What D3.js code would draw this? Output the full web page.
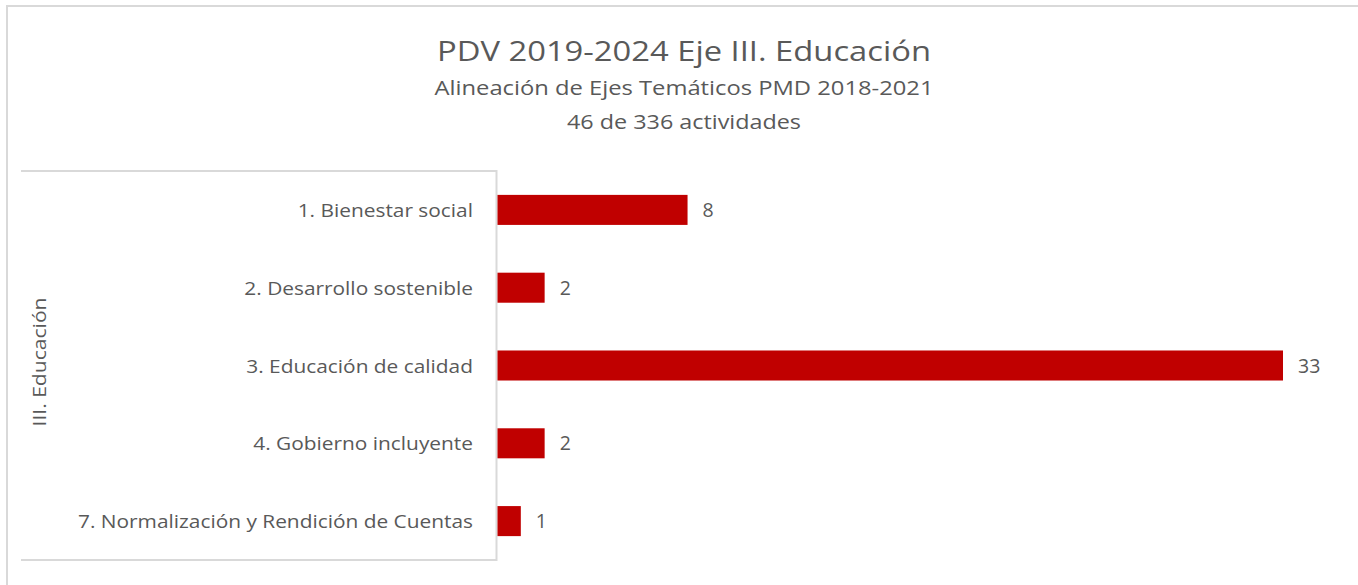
<!DOCTYPE html>
<html><head><meta charset="utf-8">
<script src="https://cdn.jsdelivr.net/npm/d3@7"></script>
<style>body{margin:0;background:#fff;} svg{display:block;font-family:"Open Sans","Noto Sans",sans-serif;}</style>
</head><body>
<svg id="c" width="1358" height="585"></svg>
<script>
const categories = ["1. Bienestar social","2. Desarrollo sostenible","3. Educación de calidad","4. Gobierno incluyente","7. Normalización y Rendición de Cuentas"];
const values = [8, 2, 33, 2, 1];
const groupLabel = "III. Educación";
const titleLines = ["PDV 2019-2024 Eje III. Educación","Alineación de Ejes Temáticos PMD 2018-2021","46 de 336 actividades"];

const svg = d3.select("#c");
const grey = "#d9d9d9", txt = "#595959";

// outer chart border (cropped)
svg.append("rect").attr("x",7).attr("y",6).attr("width",1400).attr("height",700)
  .attr("fill","none").attr("stroke",grey).attr("stroke-width",2);

// titles
const tSpecs = [{y:61,size:27.5,w:494,cx:684},{y:95,size:20,w:499,cx:684},{y:129,size:20,w:234,cx:684}];
titleLines.forEach((t,i)=>{
  const s = tSpecs[i];
  svg.append("text").attr("x",s.cx).attr("y",s.y).attr("text-anchor","middle")
    .attr("font-size",s.size).attr("fill",txt).attr("textLength",s.w)
    .attr("lengthAdjust","spacingAndGlyphs").text(t);
});

const x = d3.scaleLinear().domain([0,33]).range([497,1283]);
const y = d3.scaleBand().domain(categories).range([171,560]).paddingInner(0.614).paddingOuter(0.307);

// inner category box lines
svg.append("line").attr("x1",21).attr("x2",497).attr("y1",171).attr("y2",171).attr("stroke",grey).attr("stroke-width",2);
svg.append("line").attr("x1",21).attr("x2",497).attr("y1",560).attr("y2",560).attr("stroke",grey).attr("stroke-width",2);
svg.append("line").attr("x1",496.5).attr("x2",496.5).attr("y1",170).attr("y2",561).attr("stroke",grey).attr("stroke-width",2);

// bars
svg.selectAll("rect.bar").data(values).join("rect").attr("class","bar")
  .attr("x",x(0)+0.5).attr("y",(d,i)=>y(categories[i]))
  .attr("width",d=>x(d)-x(0)-0.5).attr("height",y.bandwidth()).attr("fill","#c00000");

// value labels
svg.selectAll("text.val").data(values).join("text").attr("class","val")
  .attr("x",d=>x(d)+15).attr("y",(d,i)=>y(categories[i])+y.bandwidth()/2+7)
  .attr("font-size",19.5).attr("fill",txt).text(d=>d);

// category labels
const labs = svg.selectAll("text.cat").data(categories).join("text").attr("class","cat")
  .attr("x",473).attr("y",c=>y(c)+y.bandwidth()/2+7).attr("text-anchor","end")
  .attr("font-size",18.5).attr("fill",txt).text(c=>c);
const longest = labs.nodes()[4].getComputedTextLength();
const k = 395/longest;
labs.each(function(){ const w=this.getComputedTextLength(); d3.select(this).attr("textLength",w*k).attr("lengthAdjust","spacingAndGlyphs"); });

// group label
svg.append("text").attr("transform","translate(46,362) rotate(-90)").attr("text-anchor","middle")
  .attr("font-size",18.5).attr("fill",txt).attr("textLength",129).attr("lengthAdjust","spacingAndGlyphs").text(groupLabel);
</script>
</body></html>
